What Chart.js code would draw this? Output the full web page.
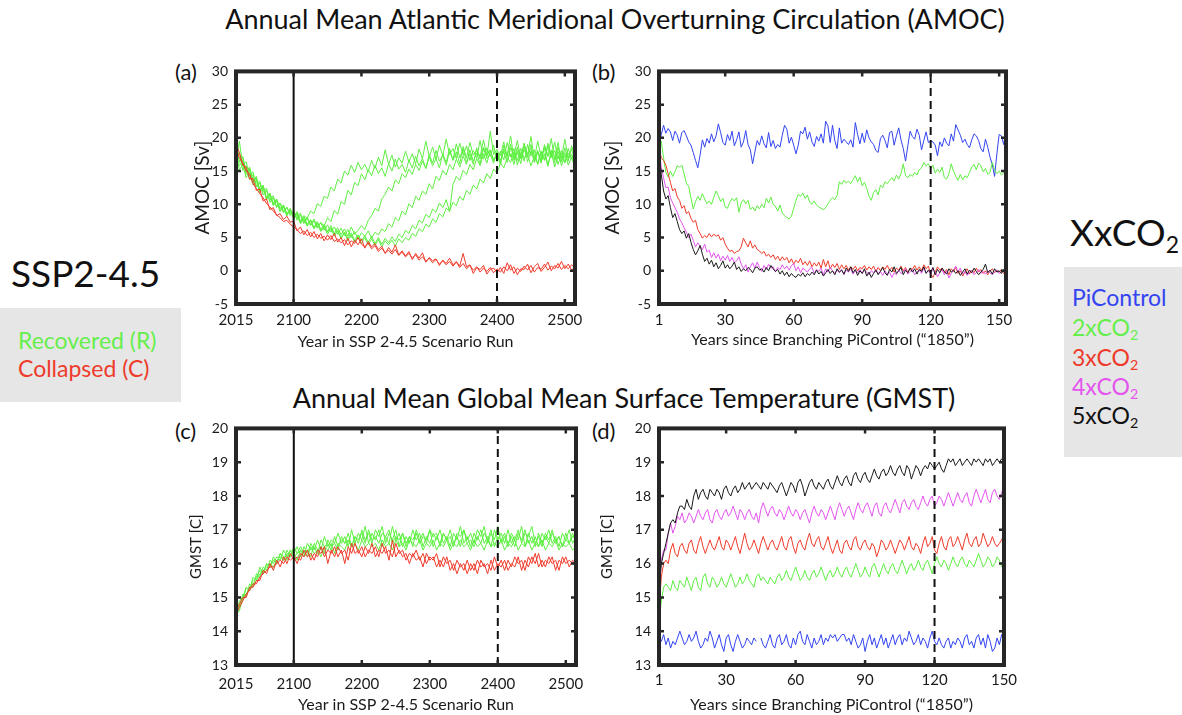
<!DOCTYPE html>
<html>
<head>
<meta charset="utf-8">
<title>AMOC and GMST</title>
<script src="https://cdn.jsdelivr.net/npm/chart.js@4.4.1/dist/chart.umd.min.js"></script>
<style>
  body { margin: 0; width: 1182px; height: 715px; position: relative; overflow: hidden; background: #fff; font-family: Lato, sans-serif; color: #111; }
  canvas.panel { position: absolute; }
  .txt { position: absolute; white-space: nowrap; }
  .head { font-size: 27px; line-height: 32px; transform: translateX(-50%); }
  .letter { font-size: 22px; line-height: 26px; }
  .big { font-size: 37px; line-height: 44px; }
  .box { position: absolute; background: #e6e6e6; }
  .item { font-size: 23px; line-height: 28px; }
  sub { font-size: 0.62em; line-height: 0; vertical-align: -0.3em; }
</style>
</head>
<body>

<div class="txt head" style="left:615px; top:3px">Annual Mean Atlantic Meridional Overturning Circulation (AMOC)</div>
<div class="txt head" style="left:624px; top:382px">Annual Mean Global Mean Surface Temperature (GMST)</div>

<div class="txt letter" style="left:175px; top:59px">(a)</div>
<div class="txt letter" style="left:592px; top:59px">(b)</div>
<div class="txt letter" style="left:175px; top:418px">(c)</div>
<div class="txt letter" style="left:592px; top:418px">(d)</div>

<!-- scenario legend, left side -->
<div class="txt big" style="left:11px; top:251px">SSP2-4.5</div>
<div class="box" style="left:0px; top:308px; width:181px; height:94px"></div>
<div class="txt item" style="left:18px; top:326px; color:#66ee4c">Recovered (R)</div>
<div class="txt item" style="left:18px; top:354px; color:#ee3b2b">Collapsed (C)</div>

<!-- CO2 experiment legend, right side -->
<div class="txt big" style="left:1070px; top:210px">XxCO<sub>2</sub></div>
<div class="box" style="left:1064px; top:267px; width:118px; height:190px"></div>
<div class="txt item" style="left:1072px; top:283px; color:#3344f0">PiControl</div>
<div class="txt item" style="left:1072px; top:313px; color:#66ee4c">2xCO<sub>2</sub></div>
<div class="txt item" style="left:1072px; top:343px; color:#ee3b2b">3xCO<sub>2</sub></div>
<div class="txt item" style="left:1072px; top:372px; color:#e455ee">4xCO<sub>2</sub></div>
<div class="txt item" style="left:1072px; top:401px; color:#111">5xCO<sub>2</sub></div>

<canvas id="chartA" class="panel" width="440" height="296" style="left:170px; top:55px"></canvas>
<canvas id="chartB" class="panel" width="450" height="296" style="left:580px; top:55px"></canvas>
<canvas id="chartC" class="panel" width="440" height="303" style="left:170px; top:412px"></canvas>
<canvas id="chartD" class="panel" width="450" height="303" style="left:580px; top:412px"></canvas>

<script>
// ---- Colours ----
const GREEN = '#5fef43';
const RED = '#ee3b2b';
const BLUE = '#3344f0';
const MAGENTA = '#e455ee';
const BLACK = '#1a1a1a';

// ---- Tick labels ----
const ticksSSP = [2015, 2100, 2200, 2300, 2400, 2500];
const ticksCO2 = [1, 30, 60, 90, 120, 150];

// ---- SSP2-4.5 runs, sampled every 5 years from 2015 to 2515 ----
const yearsSSP = Array.from({ length: 101 }, (_, i) => 2015 + 5 * i);

// AMOC [Sv], recovered members
const amocRec1 = [
  18.0, 16.5, 17.2, 14.8, 15.5, 13.6, 14.0, 12.2, 12.8, 11.0,
  11.6, 10.2, 10.8, 9.4, 9.9, 8.6, 9.3, 8.1, 8.8, 7.4,
  8.3, 7.9, 9.0, 8.6, 10.1, 9.7, 11.2, 10.9, 12.6, 12.0,
  13.8, 13.2, 15.0, 14.4, 15.9, 14.8, 16.3, 15.2, 16.0, 14.9,
  16.6, 15.4, 17.1, 15.8, 18.2, 16.0, 17.4, 15.6, 17.0, 16.2,
  18.0, 16.4, 17.6, 16.1, 18.3, 16.9, 19.5, 17.2, 18.6, 16.8,
  18.9, 17.3, 19.8, 17.5, 18.4, 16.9, 19.2, 17.4, 18.8, 16.6,
  18.1, 17.0, 19.6, 16.8, 18.5, 17.2, 18.9, 16.4, 18.0, 16.7,
  19.3, 17.1, 18.4, 15.9, 17.8, 16.5, 19.0, 17.3, 18.2, 16.0,
  17.9, 16.6, 18.8, 17.0, 19.4, 16.8, 18.1, 16.3, 17.7, 16.9,
  18.0
];
const amocRec2 = [
  16.0, 19.5, 15.8, 16.4, 14.2, 14.9, 12.7, 13.5, 11.8, 12.4,
  10.6, 11.3, 9.5, 10.2, 8.9, 9.6, 8.3, 9.0, 7.6, 8.4,
  7.1, 7.9, 6.8, 7.5, 6.4, 7.3, 6.7, 8.0, 7.4, 9.1,
  8.5, 10.4, 10.0, 12.1, 11.4, 13.3, 12.8, 14.6, 13.7, 15.2,
  14.3, 15.9, 14.6, 15.5, 14.2, 16.1, 15.0, 16.8, 15.3, 16.0,
  14.8, 16.6, 15.5, 17.2, 15.8, 16.9, 15.4, 17.5, 16.2, 18.1,
  16.5, 17.4, 15.9, 18.0, 16.7, 19.1, 17.0, 18.3, 16.4, 17.6,
  16.0, 18.5, 17.1, 19.7, 17.3, 18.2, 16.5, 17.8, 16.2, 18.9,
  17.4, 20.3, 16.9, 18.6, 17.0, 19.2, 16.4, 18.0, 16.8, 19.5,
  17.2, 18.4, 15.9, 17.7, 16.3, 18.6, 16.9, 19.8, 17.0, 18.3,
  16.6
];
const amocRec3 = [
  17.5, 15.2, 16.0, 14.0, 15.1, 12.9, 13.6, 11.7, 12.9, 10.8,
  11.5, 9.9, 10.6, 9.0, 9.7, 8.4, 9.2, 7.8, 8.6, 7.2,
  8.0, 6.9, 7.7, 6.5, 7.4, 6.2, 7.0, 5.9, 6.8, 5.6,
  6.5, 5.4, 6.3, 5.2, 6.6, 5.5, 6.1, 6.8, 6.2, 7.6,
  8.3, 9.4, 9.0, 10.8, 11.5, 12.6, 12.0, 13.7, 13.1, 14.6,
  14.0, 15.3, 14.5, 16.0, 15.1, 16.5, 15.4, 17.1, 15.8, 16.9,
  15.5, 17.6, 16.3, 18.4, 16.6, 17.9, 16.1, 18.7, 17.0, 19.3,
  17.4, 18.1, 16.8, 18.6, 17.2, 21.0, 17.5, 18.3, 16.6, 17.9,
  16.3, 18.5, 17.4, 19.6, 16.8, 18.2, 17.1, 19.0, 16.5, 17.8,
  16.2, 18.7, 17.3, 19.9, 16.7, 18.0, 15.8, 17.4, 16.5, 18.8,
  17.2
];
const amocRec4 = [
  16.8, 17.9, 15.1, 15.8, 13.7, 14.5, 12.6, 13.2, 11.4, 12.1,
  10.3, 11.0, 9.6, 10.2, 8.7, 9.5, 8.6, 8.9, 7.9, 8.7,
  7.3, 8.1, 6.9, 7.8, 6.6, 7.2, 6.1, 6.9, 5.8, 6.6,
  5.5, 6.4, 5.3, 6.2, 5.0, 5.9, 4.8, 5.7, 5.2, 6.0,
  4.9, 5.8, 5.4, 6.3, 5.9, 7.1, 6.6, 8.0, 7.5, 9.0,
  8.4, 10.1, 9.5, 11.2, 10.6, 12.0, 11.5, 13.1, 12.3, 14.2,
  13.6, 15.1, 14.4, 16.0, 15.2, 16.8, 15.6, 17.3, 16.0, 18.2,
  16.5, 17.7, 16.1, 18.4, 16.9, 17.5, 16.2, 18.0, 17.3, 19.4,
  16.8, 17.6, 16.0, 18.1, 17.0, 19.1, 17.5, 18.4, 16.3, 17.9,
  16.7, 19.0, 17.2, 18.0, 15.6, 17.3, 16.4, 18.5, 16.8, 17.5,
  16.0
];
const amocRec5 = [
  19.0, 16.3, 17.0, 14.9, 15.6, 13.4, 14.2, 12.1, 12.6, 10.9,
  11.7, 10.0, 10.7, 9.2, 9.8, 8.5, 9.1, 8.0, 8.9, 7.5,
  8.2, 7.0, 7.6, 6.4, 7.1, 6.0, 6.8, 5.8, 6.5, 5.4,
  6.1, 5.0, 5.8, 4.9, 5.7, 4.6, 5.4, 4.5, 5.3, 4.3,
  5.2, 4.1, 5.0, 4.0, 4.9, 4.2, 5.1, 4.4, 5.5, 5.0,
  6.1, 5.6, 6.8, 6.3, 7.6, 7.2, 8.5, 8.0, 9.3, 8.8,
  10.2, 9.5, 10.7, 8.9, 13.0, 14.2, 13.6, 15.1, 14.5, 16.0,
  15.2, 16.9, 15.8, 17.6, 16.2, 18.1, 16.7, 17.4, 16.0, 18.3,
  17.2, 19.0, 16.6, 17.8, 16.1, 18.6, 17.4, 20.2, 16.9, 18.1,
  16.4, 17.6, 15.7, 18.2, 17.0, 19.3, 16.5, 17.8, 15.9, 17.1,
  15.3
];
const amocRec6 = [
  17.2, 15.8, 16.6, 14.5, 15.3, 13.2, 14.0, 11.9, 12.5, 10.7,
  11.4, 9.8, 10.5, 8.9, 9.6, 8.2, 9.4, 7.9, 8.5, 7.1,
  7.8, 6.7, 7.5, 6.3, 7.2, 5.9, 6.6, 5.5, 6.4, 5.2,
  6.0, 4.8, 5.7, 4.5, 5.4, 4.3, 5.2, 4.1, 5.0, 3.9,
  4.8, 3.8, 4.7, 3.6, 4.5, 3.9, 4.6, 3.7, 4.8, 4.2,
  5.0, 4.6, 5.6, 5.2, 6.3, 5.9, 7.0, 6.6, 7.8, 7.3,
  8.6, 8.1, 9.4, 9.0, 10.3, 9.8, 11.2, 10.6, 12.1, 11.5,
  12.9, 12.3, 13.8, 13.2, 14.6, 13.9, 15.3, 14.7, 16.2, 15.5,
  17.0, 16.3, 17.8, 16.6, 18.4, 16.9, 17.5, 15.8, 17.2, 16.1,
  18.0, 16.7, 19.2, 17.3, 18.1, 16.0, 17.7, 16.2, 18.4, 16.8,
  17.9
];
// AMOC [Sv], collapsed members
const amocCol1 = [
  18.5, 17.0, 16.2, 15.0, 14.6, 13.1, 12.4, 11.6, 11.0, 10.1,
  9.6, 9.0, 8.4, 8.0, 7.4, 7.6, 7.0, 6.6, 6.2, 5.6,
  6.0, 5.3, 5.8, 5.0, 5.5, 4.9, 5.2, 4.6, 5.3, 4.4,
  4.8, 4.2, 4.7, 3.9, 4.5, 4.1, 5.0, 4.0, 3.6, 4.2,
  3.3, 3.8, 2.9, 3.4, 2.7, 3.1, 2.5, 3.2, 2.3, 2.8,
  2.1, 2.6, 1.9, 2.4, 1.6, 2.1, 1.4, 1.9, 1.2, 1.7,
  1.0, 1.5, 0.9, 1.4, 0.7, 1.3, 0.5, 1.1, 0.3, 0.8,
  0.1, 0.6, -0.2, 0.4, -0.1, 0.5, -0.3, 0.3, -0.2, 0.6,
  0.0, 0.9, -0.4, 0.4, -0.1, 0.7, 0.1, 0.8, -0.2, 0.5,
  0.2, 1.0, 0.1, 0.7, 0.3, 1.1, 0.2, 0.8, 0.3, 0.9,
  0.4
];
const amocCol2 = [
  19.0, 17.8, 15.9, 15.6, 13.8, 13.9, 12.1, 12.3, 10.5, 10.8,
  9.2, 9.5, 8.3, 8.6, 7.7, 8.2, 7.3, 7.5, 6.0, 6.6,
  5.4, 6.2, 5.1, 5.9, 4.8, 5.6, 4.5, 5.4, 4.7, 5.6,
  4.3, 5.0, 3.8, 4.9, 3.6, 4.6, 3.9, 4.8, 3.4, 4.4,
  3.6, 4.1, 3.2, 3.7, 2.6, 3.5, 2.8, 3.9, 2.4, 3.0,
  2.2, 2.9, 1.7, 2.6, 1.9, 2.7, 1.3, 2.0, 1.5, 1.8,
  0.8, 1.6, 1.1, 1.9, 0.9, 1.4, 0.7, 2.6, 0.6, 0.9,
  -0.4, 0.5, 0.2, 0.8, -0.5, 0.2, 0.4, -0.3, 0.5, -0.4,
  1.2, 0.1, 0.6, -0.6, 0.3, 0.2, 1.0, -0.3, 0.6, 1.1,
  -0.1, 0.5, 1.3, 0.0, 0.8, 0.4, 1.4, 0.3, 1.0, 0.1,
  0.6
];

// GMST [C], recovered members
const gmstRec1 = [
  14.4, 14.9, 15.0, 15.3, 15.2, 15.6, 15.5, 15.9, 15.7, 16.0,
  15.9, 16.2, 16.0, 16.3, 16.1, 16.4, 16.2, 16.5, 16.3, 16.4,
  16.2, 16.6, 16.4, 16.5, 16.3, 16.7, 16.5, 16.6, 16.4, 16.8,
  16.5, 16.7, 16.6, 16.9, 16.5, 16.8, 16.6, 17.0, 16.7, 16.9,
  16.6, 17.0, 16.8, 17.1, 16.6, 16.9, 16.7, 17.0, 16.5, 16.9,
  16.6, 16.8, 16.5, 17.0, 16.7, 16.9, 16.6, 17.0, 16.8, 16.9,
  16.5, 16.9, 16.7, 17.0, 16.6, 16.8, 16.5, 17.0, 16.7, 16.9,
  16.6, 17.0, 16.8, 17.1, 16.6, 16.9, 16.7, 17.1, 16.6, 16.8,
  16.5, 16.9, 16.7, 17.0, 16.6, 16.9, 16.8, 17.1, 16.6, 16.8,
  16.5, 16.9, 16.7, 17.0, 16.6, 16.8, 16.5, 16.9, 16.6, 16.8,
  16.7
];
const gmstRec2 = [
  14.6, 14.7, 15.1, 15.0, 15.4, 15.3, 15.7, 15.6, 15.9, 15.8,
  16.1, 16.0, 16.2, 16.1, 16.4, 16.2, 16.4, 16.3, 16.5, 16.2,
  16.5, 16.3, 16.6, 16.4, 16.7, 16.4, 16.8, 16.5, 16.7, 16.6,
  16.9, 16.6, 16.8, 16.5, 17.0, 16.6, 16.9, 16.7, 17.1, 16.6,
  16.9, 16.7, 17.0, 16.5, 16.8, 16.6, 17.1, 16.7, 16.9, 16.5,
  16.8, 16.6, 17.0, 16.7, 16.9, 16.5, 16.8, 16.6, 16.9, 16.7,
  17.0, 16.6, 16.8, 16.5, 16.9, 16.7, 17.1, 16.6, 16.8, 16.5,
  16.9, 16.7, 17.0, 16.6, 16.8, 16.5, 17.0, 16.7, 16.9, 16.6,
  17.0, 16.6, 16.8, 16.7, 17.1, 16.5, 16.9, 16.6, 16.8, 16.5,
  16.9, 16.7, 17.0, 16.6, 16.8, 16.5, 16.9, 16.7, 17.0, 16.6,
  16.8
];
const gmstRec3 = [
  14.3, 14.8, 14.9, 15.3, 15.2, 15.5, 15.6, 15.8, 15.7, 16.0,
  15.9, 16.1, 16.0, 16.3, 16.2, 16.1, 16.4, 16.2, 16.3, 16.5,
  16.3, 16.4, 16.2, 16.6, 16.4, 16.5, 16.3, 16.7, 16.5, 16.6,
  16.4, 16.8, 16.6, 16.7, 16.5, 16.8, 16.7, 16.9, 16.6, 17.0,
  16.7, 16.8, 16.6, 16.9, 16.8, 17.0, 16.6, 16.8, 16.7, 16.9,
  16.5, 16.8, 16.7, 16.9, 16.6, 16.8, 16.7, 17.0, 16.5, 16.8,
  16.6, 16.9, 16.7, 16.8, 16.5, 16.9, 16.8, 17.0, 16.6, 16.7,
  16.5, 16.8, 16.6, 16.9, 16.7, 17.0, 16.5, 16.8, 16.7, 16.9,
  16.6, 16.8, 16.5, 16.9, 16.7, 17.0, 16.6, 16.8, 16.5, 16.9,
  16.6, 16.8, 16.6, 16.9, 16.7, 16.8, 16.5, 16.7, 16.6, 16.9,
  16.6
];
const gmstRec4 = [
  14.5, 14.6, 15.0, 15.1, 15.3, 15.4, 15.5, 15.7, 15.8, 15.9,
  16.0, 15.9, 16.1, 16.2, 16.1, 16.3, 16.2, 16.3, 16.1, 16.4,
  16.3, 16.2, 16.5, 16.3, 16.4, 16.2, 16.5, 16.4, 16.6, 16.3,
  16.6, 16.5, 16.4, 16.7, 16.5, 16.6, 16.4, 16.7, 16.5, 16.6,
  16.5, 16.6, 16.4, 16.7, 16.5, 16.6, 16.4, 16.7, 16.5, 16.6,
  16.4, 16.7, 16.6, 16.5, 16.7, 16.4, 16.6, 16.5, 16.7, 16.4,
  16.6, 16.5, 16.7, 16.4, 16.6, 16.5, 16.7, 16.5, 16.6, 16.4,
  16.7, 16.5, 16.6, 16.4, 16.7, 16.5, 16.6, 16.5, 16.7, 16.4,
  16.6, 16.5, 16.7, 16.4, 16.6, 16.5, 16.7, 16.4, 16.6, 16.5,
  16.7, 16.4, 16.6, 16.5, 16.7, 16.4, 16.6, 16.5, 16.6, 16.4,
  16.5
];
// GMST [C], collapsed members
const gmstCol1 = [
  14.5, 14.7, 14.9, 15.1, 15.2, 15.4, 15.4, 15.6, 15.7, 15.8,
  15.9, 15.9, 16.0, 16.1, 16.0, 16.2, 16.1, 16.2, 16.0, 16.3,
  16.2, 16.4, 16.1, 16.3, 16.2, 16.5, 16.2, 16.4, 16.3, 16.5,
  16.2, 16.4, 16.0, 16.5, 16.3, 16.6, 16.3, 16.5, 16.2, 16.4,
  16.3, 16.5, 16.2, 16.6, 16.3, 16.4, 16.2, 16.6, 16.3, 16.4,
  16.1, 16.3, 16.2, 16.4, 16.1, 16.3, 16.0, 16.2, 16.1, 16.3,
  15.9, 16.2, 16.0, 16.1, 15.8, 16.1, 15.9, 16.0, 15.7, 16.0,
  15.8, 16.1, 15.9, 16.0, 15.7, 16.1, 15.8, 16.0, 15.9, 16.1,
  15.8, 16.0, 15.9, 16.2, 15.8, 16.1, 15.9, 16.2, 16.0, 16.3,
  15.9, 16.1, 16.0, 16.2, 15.8, 16.1, 16.0, 16.2, 15.9, 16.1,
  16.0
];
const gmstCol2 = [
  14.6, 14.8, 15.0, 15.0, 15.3, 15.3, 15.5, 15.5, 15.8, 15.7,
  16.0, 15.8, 16.1, 15.9, 16.2, 16.0, 16.3, 16.1, 16.2, 16.1,
  16.4, 16.2, 16.3, 16.1, 16.4, 16.3, 16.5, 16.0, 16.4, 16.2,
  16.5, 16.3, 16.4, 16.1, 16.6, 16.3, 16.4, 16.2, 16.5, 16.3,
  16.6, 16.2, 16.4, 16.3, 16.5, 16.1, 16.7, 16.2, 16.4, 16.2,
  16.3, 16.0, 16.3, 16.1, 16.2, 15.9, 16.3, 16.1, 16.2, 15.9,
  16.1, 15.9, 16.2, 15.8, 16.0, 15.7, 16.0, 15.8, 16.1, 15.8,
  16.0, 15.7, 16.1, 15.9, 16.0, 15.8, 16.2, 15.9, 16.1, 15.8,
  16.1, 15.9, 16.2, 16.0, 16.1, 15.8, 16.2, 16.0, 16.3, 15.9,
  16.1, 15.9, 16.2, 16.0, 16.1, 15.8, 16.2, 16.0, 16.1, 16.0,
  16.1
];

// ---- Abrupt CO2 runs, one value per year since branching ----
const yearsAmoc = Array.from({ length: 153 }, (_, i) => i + 1);
const yearsGmst = Array.from({ length: 150 }, (_, i) => i + 1);

// AMOC [Sv]
const amocPi = [
  18.6, 20.5, 21.9, 20.7, 21.4, 20.9, 19.6, 21.0, 20.4, 19.2,
  20.8, 21.1, 20.3, 19.4, 18.9, 17.8, 16.6, 15.5, 17.4, 19.7,
  18.6, 19.9, 19.2, 20.6, 19.4, 20.3, 22.1, 20.8, 19.3, 18.9,
  20.5, 19.6, 21.0, 18.8, 19.7, 20.9, 18.6, 19.4, 21.1, 19.0,
  18.2, 16.1, 17.9, 19.6, 18.9, 20.3, 19.1, 18.5, 20.8, 18.7,
  19.6, 18.4, 19.0, 18.6, 20.4, 21.9, 21.3, 19.2, 20.1, 18.9,
  17.6, 18.9, 21.0, 20.6, 21.6, 19.8, 20.9, 19.4, 18.7, 20.2,
  19.5, 20.6, 19.2, 22.5, 21.8, 19.3, 21.9, 19.6, 18.4, 21.5,
  19.2, 19.8, 19.4, 19.0, 19.7, 18.6, 22.3, 20.5, 19.1, 20.7,
  19.3, 21.2, 20.0, 19.4, 19.0, 18.1, 17.8, 19.9, 20.4, 19.6,
  18.5, 20.8, 21.0, 18.9, 20.3, 21.5, 19.7, 18.4, 16.5, 18.8,
  21.0, 20.2, 19.8, 21.3, 20.4, 18.2, 19.6, 20.9, 19.3, 19.5,
  19.4, 18.9, 17.3, 19.4, 18.7, 20.0, 19.2, 18.8, 20.6, 19.5,
  22.0, 21.2, 20.4, 19.3, 19.8, 19.0, 18.5, 19.7, 20.6, 20.3,
  19.6, 18.4, 17.9, 19.8, 18.6, 17.1, 16.0, 14.2, 17.6, 20.5,
  20.3, 19.0, 21.3
];
const amoc2x = [
  18.6, 19.5, 17.0, 14.8, 14.1, 15.0, 14.2, 14.9, 15.8, 15.6,
  15.9, 14.6, 13.2, 12.7, 11.0, 9.3, 10.4, 11.2, 10.6, 11.6,
  10.8, 10.1, 10.5, 10.0, 11.1, 12.0, 11.3, 10.4, 10.9, 9.6,
  9.4, 10.3, 10.9, 10.5, 11.0, 8.8, 10.2, 10.7, 10.1, 10.6,
  9.2, 9.6, 9.0, 9.8, 9.3, 10.0, 9.5, 10.9, 10.2, 11.1,
  10.0, 9.7, 9.0, 9.9, 8.7, 8.3, 8.0, 7.8, 8.2, 9.4,
  10.6, 11.5, 11.2, 11.7, 10.9, 11.4, 10.3, 10.0, 10.5, 9.9,
  9.6, 9.4, 9.2, 9.5, 10.1, 10.6, 11.0, 10.7, 11.3, 13.4,
  13.0, 13.6, 13.2, 13.5, 13.1, 13.7, 14.3, 13.4, 14.1, 12.8,
  13.3, 12.4, 11.2, 10.6, 11.8, 12.2, 11.4, 12.9, 12.5, 13.4,
  13.1, 13.6, 14.0, 13.5, 14.4, 13.8, 14.6, 16.1, 14.3, 14.0,
  14.5, 14.2, 14.8, 14.4, 15.2, 15.5, 16.3, 15.8, 16.1, 15.4,
  15.9, 14.7, 15.3, 14.8, 15.6, 14.0, 13.8, 14.6, 16.1, 15.0,
  14.2, 13.6, 14.5, 13.7, 14.3, 14.0, 14.8, 15.6, 16.0, 15.2,
  16.2, 15.8, 14.9, 15.4, 14.5, 14.8, 16.3, 15.2, 14.6, 15.0,
  14.4, 14.7, 15.3
];
const amoc3x = [
  18.5, 17.0, 16.6, 15.9, 14.6, 13.3, 12.0, 12.4, 11.1, 10.6,
  9.4, 9.8, 8.6, 8.9, 7.9, 7.3, 7.6, 6.2, 5.6, 4.9,
  5.3, 5.0, 5.6, 5.1, 5.5, 5.2, 5.4, 4.6, 5.0, 4.0,
  3.4, 2.9, 3.1, 2.6, 2.9, 3.0, 3.6, 4.9, 4.2, 3.6,
  4.5, 3.4, 3.9, 3.2, 3.0, 2.6, 2.9, 2.2, 2.5, 2.0,
  2.4, 1.7, 2.2, 1.5, 2.1, 1.6, 2.0, 1.2, 1.8, 1.0,
  1.6, 1.2, 1.9, 0.9, 1.4, 0.8, 1.5, 0.6, 1.2, 0.7,
  1.3, 0.4, 1.7, 0.6, 1.5, 0.3, 1.0, 0.5, 1.1, 0.2,
  0.9, 0.3, 0.8, 0.1, 0.6, 0.2, 0.7, 0.0, 0.5, 0.3,
  0.8, 0.1, 0.6, 0.2, 0.7, -0.1, 0.5, 0.0, 0.6, 0.2,
  0.8, 0.1, 0.5, -0.2, 0.4, 0.1, 0.7, 0.0, 0.5, -0.3,
  0.4, 0.2, 0.8, 0.1, 0.6, 0.0, 0.9, 0.3, 0.7, -0.5,
  -1.0, -0.2, 0.6, 0.1, 0.4, -0.3, 0.2, -0.6, 0.3, -0.1,
  0.5, -0.4, 0.0, -0.8, -0.2, 0.3, -0.5, 0.1, -0.3, 0.4,
  -0.2, 0.2, -0.4, 0.0, -0.6, -0.1, 0.3, -0.3, 0.1, -0.2,
  0.2, -0.4, -0.2
];
const amoc4x = [
  18.5, 15.5, 14.0, 12.5, 12.6, 11.0, 10.2, 9.5, 8.8, 7.8,
  7.2, 6.5, 5.8, 5.0, 5.5, 4.6, 3.6, 4.2, 3.7, 3.2,
  4.0, 2.8, 3.1, 2.0, 2.7, 1.9, 2.5, 1.5, 2.2, 1.6,
  2.3, 1.4, 2.0, 1.2, 1.5, 2.1, 1.0, 0.3, 0.9, -0.2,
  0.6, 1.2, 0.4, 1.3, 0.5, -0.1, 0.8, 0.2, 1.0, 0.4,
  0.6, -0.2, 0.5, 0.2, 0.9, 0.3, 0.7, 0.1, 0.8, 1.1,
  0.0, 0.6, -0.3, 0.4, 0.1, -0.2, 0.3, 0.5, -0.4, 0.2,
  -0.1, 0.4, -0.6, 0.3, -0.2, 0.5, 0.0, -0.4, 0.1, -0.3,
  0.2, -0.6, 0.1, -0.2, 0.3, -0.5, 0.0, -0.3, 0.2, -0.4,
  0.1, -0.2, -0.6, 0.0, -0.3, 0.2, -0.4, -0.1, -0.7, 0.0,
  -0.5, -0.2, -1.0, -0.3, -0.6, 0.1, -0.4, -0.2, 0.3, -0.5,
  -0.1, 0.2, -0.6, -0.2, 0.1, -0.4, 0.4, -0.3, 0.0, -0.5,
  0.3, -0.2, -0.9, -0.3, 0.2, -0.6, 0.0, -1.1, -0.4, 0.1,
  0.7, -0.2, 0.4, -0.5, -0.1, -0.7, -0.2, 0.1, -0.6, -0.3,
  0.2, -0.4, -0.1, -0.5, 0.0, -0.3, -0.6, -0.2, 0.1, -0.4,
  -0.2, 0.1, 0.2
];
const amoc5x = [
  18.0, 14.5, 12.0, 10.8, 11.3, 9.5, 8.0, 8.6, 7.4, 6.2,
  5.6, 6.0, 4.9, 5.6, 4.3, 3.2, 2.4, 3.0, 3.8, 2.5,
  1.4, 1.9, 1.0, 1.6, 0.6, 1.2, 0.3, 0.8, 1.5, 0.4,
  0.9, 0.3, 0.7, 1.3, 0.2, 0.6, -0.1, 0.3, 0.0, 0.5,
  0.2, -0.3, 0.4, 0.6, 0.1, 0.3, -0.2, 0.5, 0.0, 0.8,
  0.3, -0.1, 0.2, -0.5, 0.0, -0.7, -0.2, -0.9, -0.4, -0.8,
  -1.0, -0.5, -0.8, -0.3, -0.9, -0.4, -0.7, -0.2, -0.6, 0.1,
  -0.5, -0.1, -0.8, -0.3, 0.2, -0.4, 0.0, -0.6, 0.3, -0.2,
  0.1, -0.5, 0.4, -0.1, 0.6, -0.3, 0.2, -0.7, 0.0, -0.4,
  0.3, -0.8, -0.2, -1.0, -0.4, 0.1, -0.6, -0.1, 0.5, -0.3,
  -0.7, 0.2, -0.2, 0.6, -0.4, 0.0, 0.5, -0.6, 0.1, -0.3,
  0.4, -0.2, 0.3, -0.5, 0.2, -0.1, 0.6, -0.4, 0.1, -0.2,
  0.5, -0.6, 0.2, -0.3, 0.4, -0.1, -0.5, 0.3, -0.2, 0.1,
  -0.4, 0.0, -0.7, -0.2, 0.3, -0.5, 0.1, -0.3, 0.4, -0.1,
  -0.6, -0.2, 0.2, 1.0, -0.3, 0.1, -0.5, 0.3, -0.2, 0.0,
  -0.4, 0.2, 0.1
];

// GMST [C] (the PiControl record has one missing year)
const gmstPi = [
  13.8, 13.7, 13.9, 13.6, 13.8, 13.5, 13.7, 13.6, 13.8, 14.0,
  13.8, 13.6, 13.7, 13.9, 13.7, 13.8, 14.0, 13.7, 13.5, 13.6,
  13.8, 13.7, 14.0, 13.8, 13.5, 13.7, 13.9, 13.6, 13.4, 13.8,
  13.9, 13.6, 13.4, 13.7, 13.9, 13.7, 13.5, 13.6, 13.8, 13.7,
  13.6, 13.8, 13.7, null, 13.8, 13.6, 13.5, 13.7, 13.9, 13.6,
  13.5, 13.8, 13.9, 13.6, 13.7, 13.9, 13.6, 13.5, 13.8, 13.6,
  13.9, 14.0, 13.7, 13.6, 13.9, 13.7, 13.5, 13.8, 13.6, 13.7,
  13.9, 13.6, 13.8, 13.7, 13.9, 13.8, 13.9, 13.7, 13.8, 13.9,
  13.9, 13.7, 13.8, 13.6, 13.9, 13.7, 13.5, 13.6, 13.8, 13.4,
  13.7, 13.9, 13.6, 13.8, 13.5, 13.7, 13.9, 13.6, 13.8, 13.5,
  13.7, 13.9, 13.6, 13.8, 13.9, 13.6, 13.8, 13.7, 14.0, 13.8,
  13.6, 13.7, 13.9, 13.6, 13.8, 13.7, 13.5, 13.8, 14.0, 13.7,
  13.6, 13.8, 13.6, 13.5, 13.7, 13.8, 13.5, 13.7, 13.6, 13.8,
  13.7, 13.5, 13.8, 13.9, 13.6, 13.7, 13.5, 13.8, 13.9, 13.6,
  13.8, 13.5, 13.9, 13.7, 13.4, 13.5, 13.8, 13.6, 13.9, 13.7
];
const gmst2x = [
  14.3, 14.9, 15.3, 15.4, 15.3, 15.2, 15.5, 15.3, 15.2, 15.5,
  15.4, 15.3, 15.6, 15.4, 15.2, 15.5, 15.6, 15.3, 15.2, 15.6,
  15.7, 15.4, 15.3, 15.6, 15.5, 15.3, 15.4, 15.6, 15.4, 15.3,
  15.5, 15.7, 15.5, 15.3, 15.4, 15.6, 15.4, 15.5, 15.7, 15.5,
  15.4, 15.3, 15.6, 15.7, 15.5, 15.6, 15.5, 15.4, 15.6, 15.5,
  15.4, 15.6, 15.7, 15.5, 15.6, 15.8, 15.6, 15.5, 15.7, 15.9,
  15.7, 15.5, 15.6, 15.8, 15.6, 15.5, 15.7, 15.8, 15.6, 15.7,
  15.9, 15.7, 15.5, 15.7, 15.8, 15.6, 15.7, 15.9, 15.7, 15.6,
  15.8, 15.9, 15.7, 15.6, 15.8, 16.0, 15.8, 15.6, 15.7, 15.9,
  15.7, 15.6, 15.9, 16.0, 15.8, 15.6, 15.8, 16.0, 15.8, 15.7,
  15.9, 16.0, 15.8, 15.7, 15.9, 16.1, 15.9, 15.7, 15.9, 16.0,
  15.8, 15.9, 16.1, 15.9, 15.8, 16.0, 16.1, 15.9, 15.7, 16.0,
  16.2, 16.0, 15.9, 16.1, 16.0, 15.8, 16.0, 16.2, 16.0, 15.9,
  16.1, 16.2, 16.0, 15.9, 16.1, 16.0, 15.9, 16.1, 16.3, 16.1,
  15.9, 16.0, 16.2, 16.1, 15.9, 16.0, 16.2, 16.1, 15.9, 16.0
];
const gmst3x = [
  14.7, 15.6, 16.0, 16.1, 16.0, 16.4, 16.6, 16.3, 16.2, 16.5,
  16.6, 16.4, 16.3, 16.6, 16.7, 16.4, 16.3, 16.6, 16.8, 16.5,
  16.3, 16.5, 16.7, 16.5, 16.4, 16.6, 16.8, 16.5, 16.4, 16.7,
  16.6, 16.4, 16.6, 16.8, 16.5, 16.3, 16.6, 16.9, 16.6, 16.4,
  16.5, 16.7, 16.5, 16.3, 16.6, 16.8, 16.6, 16.4, 16.6, 16.7,
  16.5, 16.4, 16.6, 16.8, 16.5, 16.4, 16.7, 16.8, 16.5, 16.3,
  16.6, 16.7, 16.5, 16.4, 16.7, 16.9, 16.6, 16.5, 16.7, 16.8,
  16.5, 16.4, 16.6, 16.8, 16.5, 16.3, 16.5, 16.7, 16.4, 16.3,
  16.6, 16.7, 16.5, 16.4, 16.7, 16.8, 16.5, 16.4, 16.6, 16.7,
  16.5, 16.4, 16.6, 16.5, 16.2, 16.4, 16.7, 16.6, 16.4, 16.5,
  16.7, 16.5, 16.3, 16.5, 16.7, 16.6, 16.4, 16.6, 16.8, 16.5,
  16.4, 16.6, 16.5, 16.3, 16.6, 16.8, 16.5, 16.6, 16.8, 16.4,
  16.3, 16.6, 16.8, 16.5, 16.4, 16.7, 16.8, 16.5, 16.6, 16.8,
  16.6, 16.4, 16.7, 16.9, 16.6, 16.5, 16.7, 16.8, 16.5, 16.6,
  16.9, 16.7, 16.5, 16.6, 16.8, 16.6, 16.5, 16.6, 16.7, 16.9
];
const gmst4x = [
  15.0, 16.1, 16.4, 16.4, 16.9, 17.2, 16.9, 17.1, 17.4, 17.3,
  17.5, 17.2, 17.3, 17.5, 17.4, 17.2, 17.4, 17.6, 17.4, 17.3,
  17.5, 17.6, 17.3, 17.2, 17.5, 17.6, 17.4, 17.3, 17.5, 17.6,
  17.4, 17.5, 17.7, 17.5, 17.3, 17.6, 17.5, 17.3, 17.5, 17.6,
  17.4, 17.3, 17.5, 17.2, 17.6, 17.8, 17.6, 17.4, 17.6, 17.7,
  17.5, 17.4, 17.6, 17.5, 17.3, 17.5, 17.7, 17.5, 17.4, 17.6,
  17.5, 17.3, 17.5, 17.6, 17.4, 17.2, 17.5, 17.7, 17.5, 17.4,
  17.6, 17.5, 17.3, 17.5, 17.7, 17.5, 17.3, 17.6, 17.8, 17.6,
  17.4, 17.6, 17.7, 17.5, 17.3, 17.6, 17.8, 17.6, 17.5, 17.7,
  17.8, 17.6, 17.4, 17.7, 17.8, 17.5, 17.4, 17.7, 17.8, 17.6,
  17.5, 17.7, 17.9, 17.7, 17.5, 17.8, 17.9, 17.7, 17.6, 17.8,
  17.9, 17.7, 17.6, 17.8, 18.0, 17.8, 17.7, 17.9, 18.0, 17.7,
  17.8, 18.0, 17.9, 17.7, 17.9, 18.1, 17.9, 17.7, 17.9, 18.1,
  17.9, 17.8, 18.0, 18.1, 17.8, 17.7, 18.0, 18.2, 18.0, 17.8,
  18.0, 18.2, 17.9, 17.8, 18.1, 18.2, 18.0, 17.9, 18.1, 18.3
];
const gmst5x = [
  15.2, 16.0, 16.3, 16.6, 16.9, 17.2, 17.3, 17.2, 17.5, 17.7,
  17.7, 17.6, 17.9, 17.7, 17.6, 18.0, 18.2, 17.9, 18.1, 18.2,
  18.0, 17.9, 18.2, 18.1, 18.0, 18.2, 18.1, 17.9, 18.2, 18.3,
  18.1, 18.0, 18.2, 18.3, 18.1, 18.2, 18.4, 18.2, 18.3, 18.4,
  18.2, 18.3, 18.4, 18.3, 18.2, 18.4, 18.3, 18.2, 18.4, 18.3,
  18.2, 18.1, 18.3, 18.4, 18.2, 18.0, 18.2, 18.4, 18.3, 18.1,
  18.4, 18.5, 18.3, 18.0, 18.2, 18.4, 18.5, 18.3, 18.2, 18.4,
  18.3, 18.2, 18.4, 18.5, 18.3, 18.2, 18.4, 18.6, 18.4, 18.3,
  18.5, 18.6, 18.4, 18.3, 18.6, 18.7, 18.5, 18.4, 18.6, 18.7,
  18.5, 18.4, 18.6, 18.8, 18.6, 18.5, 18.7, 18.8, 18.6, 18.7,
  18.9, 18.7, 18.6, 18.8, 18.9, 18.7, 18.6, 18.9, 18.8, 18.5,
  18.7, 18.9, 18.8, 18.6, 18.8, 18.9, 18.8, 19.0, 18.9, 18.8,
  18.9, 19.0, 18.8, 18.7, 18.9, 19.1, 19.0, 19.1, 18.9, 19.0,
  19.1, 18.9, 19.0, 19.1, 19.0, 18.9, 19.1, 19.0, 19.1, 19.0,
  18.9, 19.1, 19.0, 19.1, 18.9, 19.0, 19.1, 19.0, 19.1, 19.0
];

Chart.defaults.font.family = 'Lato';
Chart.defaults.color = '#1a1a1a';

// Box around the plot area with short inward tick marks on all four sides
const boxFrame = {
  id: 'boxFrame',
  afterDatasetsDraw(chart) {
    const { ctx, chartArea: a, scales: { x, y } } = chart;
    ctx.save();
    ctx.strokeStyle = '#262626';
    ctx.lineWidth = 2.5;
    ctx.beginPath();
    x.ticks.forEach(t => {
      const px = x.getPixelForValue(t.value);
      ctx.moveTo(px, a.bottom); ctx.lineTo(px, a.bottom - 5);
      ctx.moveTo(px, a.top); ctx.lineTo(px, a.top + 5);
    });
    y.ticks.forEach(t => {
      const py = y.getPixelForValue(t.value);
      ctx.moveTo(a.left, py); ctx.lineTo(a.left + 5, py);
      ctx.moveTo(a.right, py); ctx.lineTo(a.right - 5, py);
    });
    ctx.stroke();
    ctx.lineWidth = 4;
    ctx.strokeRect(a.left, a.top, a.right - a.left, a.bottom - a.top);
    ctx.restore();
  }
};

function series(xs, ys, color) {
  return {
    data: xs.map((x, i) => ({ x, y: ys[i] })),
    borderColor: color,
    borderWidth: 1,
    pointRadius: 0,
    spanGaps: false
  };
}

// vertical marker spanning the whole y range
function marker(x, yMin, yMax, dashed) {
  return {
    data: [{ x, y: yMin }, { x, y: yMax }],
    borderColor: '#111',
    borderWidth: 2,
    borderDash: dashed ? [8, 5] : [],
    pointRadius: 0
  };
}

function buildPanel(id, datasets, cfg) {
  return new Chart(document.getElementById(id), {
    type: 'line',
    data: { datasets },
    options: {
      responsive: false,
      animation: false,
      devicePixelRatio: 1,
      events: [],
      layout: { padding: { left: 0, top: cfg.top, right: cfg.right, bottom: 0 } },
      plugins: { legend: { display: false }, tooltip: { enabled: false } },
      elements: { line: { tension: 0 } },
      scales: {
        x: {
          type: 'linear',
          min: cfg.xMin,
          max: cfg.xMax,
          grid: { display: false, drawTicks: false },
          border: { display: false },
          afterBuildTicks: axis => { axis.ticks = cfg.xTicks.map(v => ({ value: v })); },
          afterFit: axis => { axis.height = cfg.xHeight; },
          ticks: { font: { size: 15 }, padding: cfg.xPad, maxRotation: 0, autoSkip: false, callback: v => String(v) },
          title: { display: true, text: cfg.xTitle, font: { size: 16 }, padding: { top: 0, bottom: cfg.xTitlePad } }
        },
        y: {
          min: cfg.yMin,
          max: cfg.yMax,
          grid: { display: false, drawTicks: false },
          border: { display: false },
          afterFit: axis => { axis.width = cfg.yWidth; },
          ticks: { stepSize: cfg.yStep, font: { size: 14 }, padding: 8, callback: v => String(v) },
          title: { display: true, text: cfg.yTitle, font: { size: cfg.yTitleSize }, padding: { top: cfg.yTitlePad, bottom: 0 } }
        }
      }
    },
    plugins: [boxFrame]
  });
}

// (a) AMOC, SSP2-4.5
buildPanel('chartA', [
  marker(2100, -5, 30, false),
  marker(2400, -5, 30, true),
  series(yearsSSP, amocCol1, RED),
  series(yearsSSP, amocCol2, RED),
  series(yearsSSP, amocRec1, GREEN),
  series(yearsSSP, amocRec2, GREEN),
  series(yearsSSP, amocRec3, GREEN),
  series(yearsSSP, amocRec4, GREEN),
  series(yearsSSP, amocRec5, GREEN),
  series(yearsSSP, amocRec6, GREEN)
], {
  top: 15, right: 35, xHeight: 47, yWidth: 66,
  xMin: 2015, xMax: 2515, xTicks: ticksSSP, xPad: 7,
  xTitle: 'Year in SSP 2-4.5 Scenario Run', xTitlePad: 0,
  yMin: -5, yMax: 30, yStep: 5, yTitle: 'AMOC [Sv]', yTitleSize: 19, yTitlePad: 21
});

// (b) AMOC, abrupt CO2 experiments
buildPanel('chartB', [
  marker(120, -5, 30, true),
  series(yearsAmoc, amoc5x, BLACK),
  series(yearsAmoc, amoc4x, MAGENTA),
  series(yearsAmoc, amoc3x, RED),
  series(yearsAmoc, amoc2x, GREEN),
  series(yearsAmoc, amocPi, BLUE)
], {
  top: 15, right: 24, xHeight: 47, yWidth: 79,
  xMin: 1, xMax: 153, xTicks: ticksCO2, xPad: 7,
  xTitle: 'Years since Branching PiControl (\u201c1850\u201d)', xTitlePad: 2,
  yMin: -5, yMax: 30, yStep: 5, yTitle: 'AMOC [Sv]', yTitleSize: 19, yTitlePad: 21
});

// (c) GMST, SSP2-4.5
buildPanel('chartC', [
  marker(2100, 13, 20, false),
  marker(2400, 13, 20, true),
  series(yearsSSP, gmstCol1, RED),
  series(yearsSSP, gmstCol2, RED),
  series(yearsSSP, gmstRec1, GREEN),
  series(yearsSSP, gmstRec2, GREEN),
  series(yearsSSP, gmstRec3, GREEN),
  series(yearsSSP, gmstRec4, GREEN)
], {
  top: 16, right: 34, xHeight: 50, yWidth: 66,
  xMin: 2015, xMax: 2515, xTicks: ticksSSP, xPad: 10,
  xTitle: 'Year in SSP 2-4.5 Scenario Run', xTitlePad: 1,
  yMin: 13, yMax: 20, yStep: 1, yTitle: 'GMST [C]', yTitleSize: 15, yTitlePad: 17
});

// (d) GMST, abrupt CO2 experiments
buildPanel('chartD', [
  marker(120, 13, 20, true),
  series(yearsGmst, gmst5x, BLACK),
  series(yearsGmst, gmst4x, MAGENTA),
  series(yearsGmst, gmst3x, RED),
  series(yearsGmst, gmst2x, GREEN),
  series(yearsGmst, gmstPi, BLUE)
], {
  top: 15, right: 26, xHeight: 50, yWidth: 79,
  xMin: 1, xMax: 150, xTicks: ticksCO2, xPad: 6,
  xTitle: 'Years since Branching PiControl (\u201c1850\u201d)', xTitlePad: 1,
  yMin: 13, yMax: 20, yStep: 1, yTitle: 'GMST [C]', yTitleSize: 15, yTitlePad: 18
});
</script>
</body>
</html>
